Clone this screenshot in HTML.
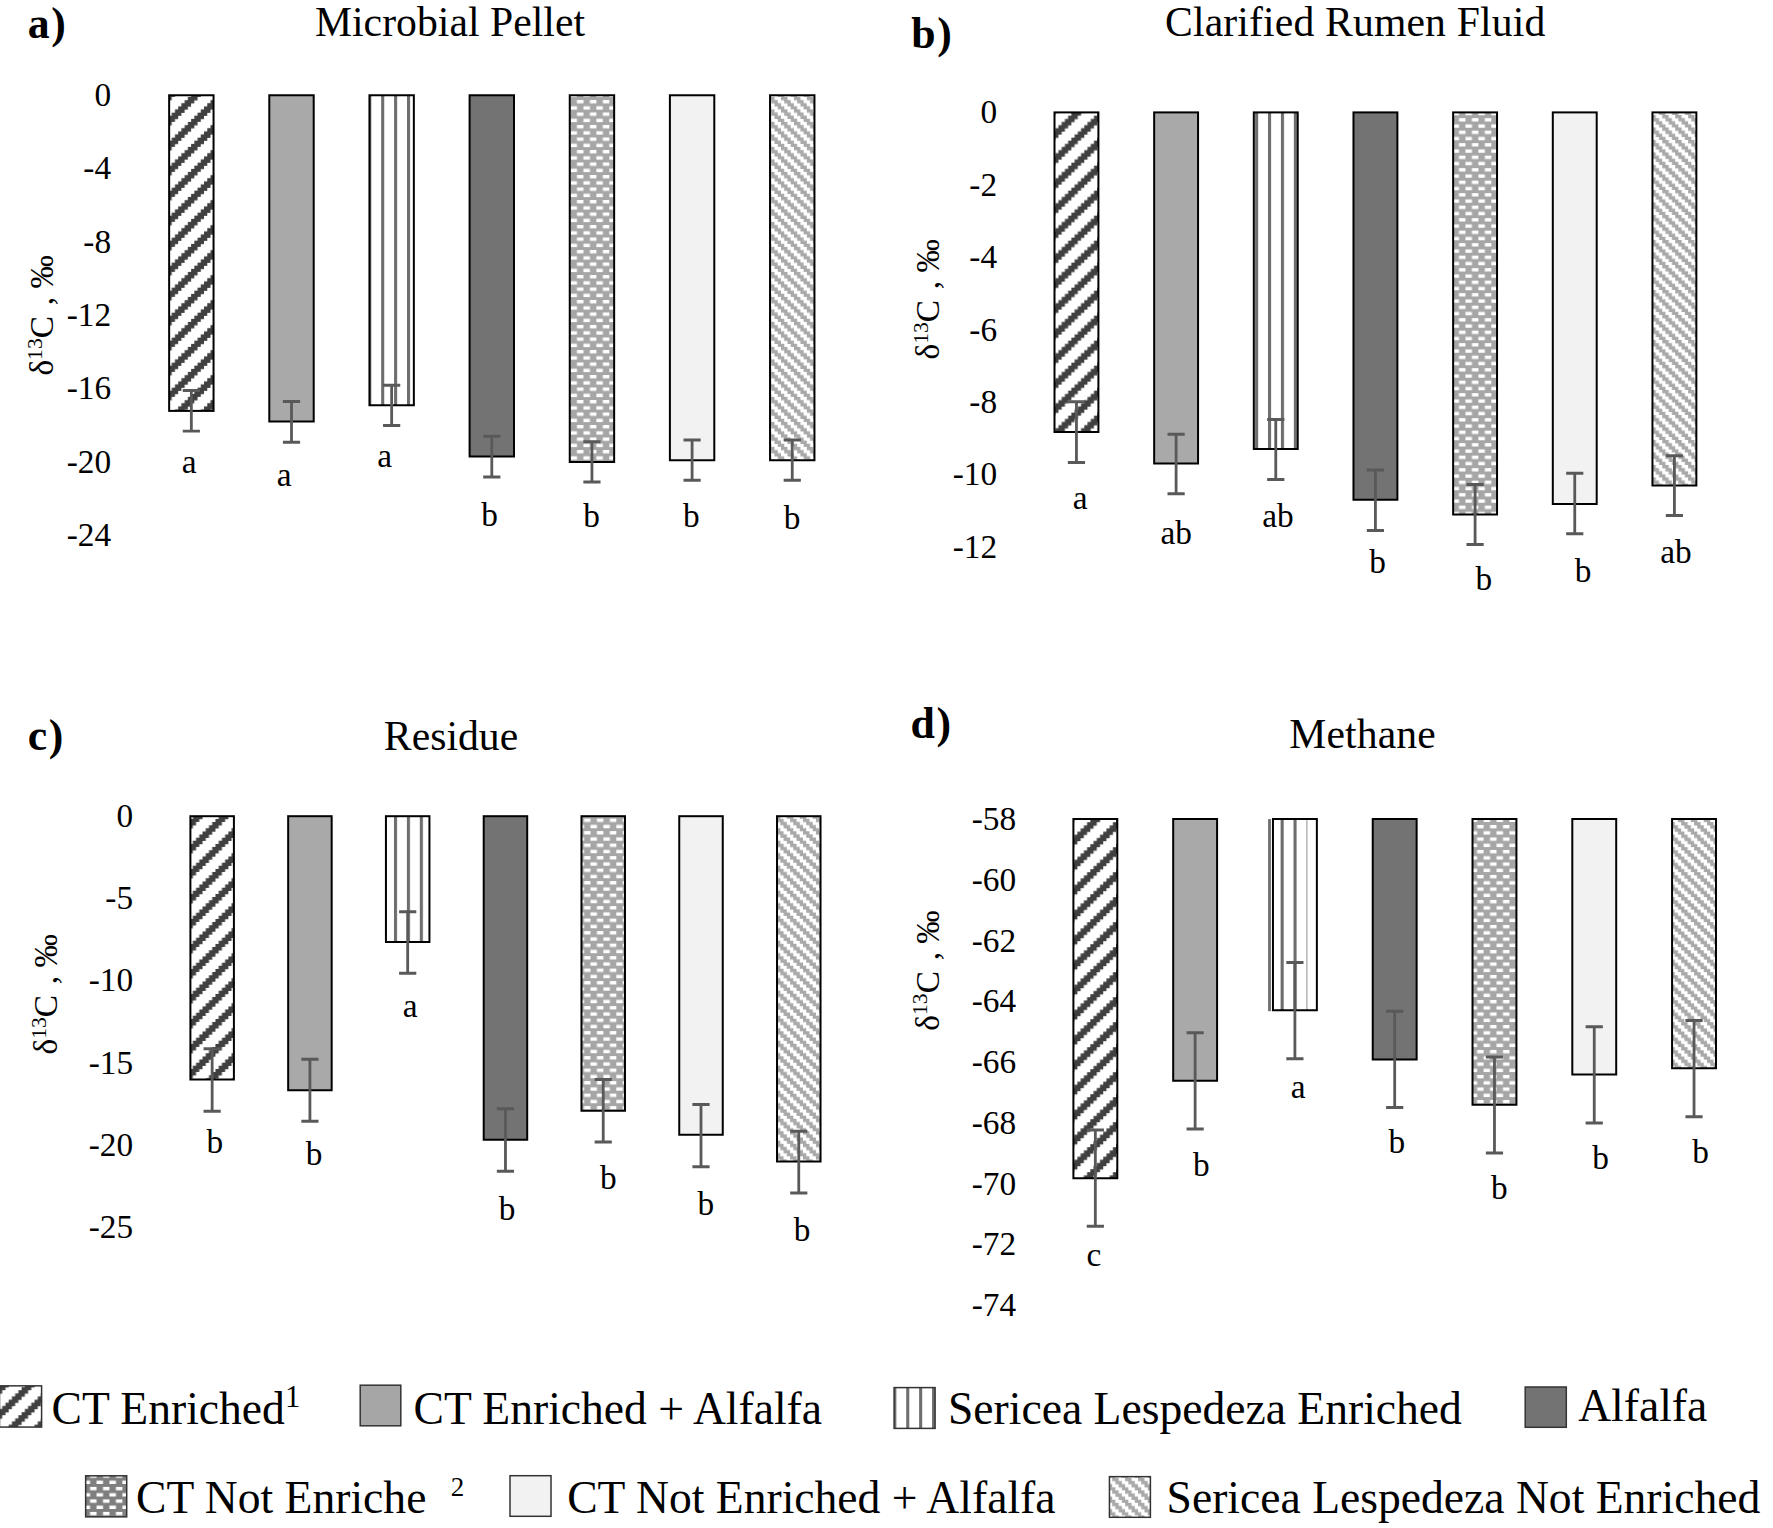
<!DOCTYPE html>
<html lang="en"><head><meta charset="utf-8"><title>Figure</title>
<style>html,body{margin:0;padding:0;background:#fff}body{width:1773px;height:1528px;overflow:hidden}svg{display:block}</style>
</head><body>
<svg width="1773" height="1528" viewBox="0 0 1773 1528" font-family='"Liberation Serif", serif' fill="#000">
<defs><pattern id="a0" patternUnits="userSpaceOnUse" x="23.16" y="21.88" width="25.840" height="25.000"><rect width="25.840" height="25.000" fill="#fff"/><path d="M9.69 0.000H19.38V3.375H9.69ZM6.46 3.125H16.15V6.500H6.46ZM3.23 6.250H12.92V9.625H3.23ZM0.00 9.375H9.69V12.750H0.00ZM0.00 12.500H6.46V15.875H0.00ZM22.61 12.500H25.84V15.875H22.61ZM0.00 15.625H3.23V19.000H0.00ZM19.38 15.625H25.84V19.000H19.38ZM16.15 18.750H25.84V22.125H16.15ZM12.92 21.875H22.61V25.250H12.92Z" fill="#404040"/></pattern>
<pattern id="a2" patternUnits="userSpaceOnUse" x="6.47" y="0" width="12.920" height="40"><rect width="12.920" height="40" fill="#fff"/><rect width="3.1" height="40" fill="#6e6e6e"/></pattern>
<pattern id="a4" patternUnits="userSpaceOnUse" x="2.06" y="0.00" width="12.920" height="12.500"><rect width="12.920" height="12.500" fill="#a6a6a6"/><path d="M6.46 0.000H12.92V3.375H6.46ZM0.00 6.250H6.46V9.625H0.00Z" fill="#fff"/></pattern>
<pattern id="a6" patternUnits="userSpaceOnUse" x="5.80" y="9.38" width="12.920" height="12.500"><rect width="12.920" height="12.500" fill="#fff"/><path d="M0.00 0.000H6.46V3.375H0.00ZM3.23 3.125H9.69V6.500H3.23ZM6.46 6.250H12.92V9.625H6.46ZM0.00 9.375H3.23V12.750H0.00ZM9.69 9.375H12.92V12.750H9.69Z" fill="#a9a9a9"/></pattern>
<pattern id="b0" patternUnits="userSpaceOnUse" x="24.86" y="15.66" width="25.840" height="25.000"><rect width="25.840" height="25.000" fill="#fff"/><path d="M9.69 0.000H19.38V3.375H9.69ZM6.46 3.125H16.15V6.500H6.46ZM3.23 6.250H12.92V9.625H3.23ZM0.00 9.375H9.69V12.750H0.00ZM0.00 12.500H6.46V15.875H0.00ZM22.61 12.500H25.84V15.875H22.61ZM0.00 15.625H3.23V19.000H0.00ZM19.38 15.625H25.84V19.000H19.38ZM16.15 18.750H25.84V22.125H16.15ZM12.92 21.875H22.61V25.250H12.92Z" fill="#404040"/></pattern>
<pattern id="b2" patternUnits="userSpaceOnUse" x="1.84" y="0" width="12.920" height="40"><rect width="12.920" height="40" fill="#fff"/><rect width="3.1" height="40" fill="#6e6e6e"/></pattern>
<pattern id="b4" patternUnits="userSpaceOnUse" x="5.50" y="5.64" width="12.920" height="12.500"><rect width="12.920" height="12.500" fill="#a6a6a6"/><path d="M6.46 0.000H12.92V3.375H6.46ZM0.00 6.250H6.46V9.625H0.00Z" fill="#fff"/></pattern>
<pattern id="b6" patternUnits="userSpaceOnUse" x="8.50" y="2.46" width="12.920" height="12.500"><rect width="12.920" height="12.500" fill="#fff"/><path d="M0.00 0.000H6.46V3.375H0.00ZM3.23 3.125H9.69V6.500H3.23ZM6.46 6.250H12.92V9.625H6.46ZM0.00 9.375H3.23V12.750H0.00ZM9.69 9.375H12.92V12.750H9.69Z" fill="#a9a9a9"/></pattern>
<pattern id="c0" patternUnits="userSpaceOnUse" x="21.65" y="21.96" width="25.840" height="25.000"><rect width="25.840" height="25.000" fill="#fff"/><path d="M9.69 0.000H19.38V3.375H9.69ZM6.46 3.125H16.15V6.500H6.46ZM3.23 6.250H12.92V9.625H3.23ZM0.00 9.375H9.69V12.750H0.00ZM0.00 12.500H6.46V15.875H0.00ZM22.61 12.500H25.84V15.875H22.61ZM0.00 15.625H3.23V19.000H0.00ZM19.38 15.625H25.84V19.000H19.38ZM16.15 18.750H25.84V22.125H16.15ZM12.92 21.875H22.61V25.250H12.92Z" fill="#404040"/></pattern>
<pattern id="c2" patternUnits="userSpaceOnUse" x="6.37" y="0" width="12.920" height="40"><rect width="12.920" height="40" fill="#fff"/><rect width="3.1" height="40" fill="#6e6e6e"/></pattern>
<pattern id="c4" patternUnits="userSpaceOnUse" x="9.08" y="6.10" width="12.920" height="12.500"><rect width="12.920" height="12.500" fill="#a6a6a6"/><path d="M6.46 0.000H12.92V3.375H6.46ZM0.00 6.250H6.46V9.625H0.00Z" fill="#fff"/></pattern>
<pattern id="c6" patternUnits="userSpaceOnUse" x="1.97" y="6.28" width="12.920" height="12.500"><rect width="12.920" height="12.500" fill="#fff"/><path d="M0.00 0.000H6.46V3.375H0.00ZM3.23 3.125H9.69V6.500H3.23ZM6.46 6.250H12.92V9.625H6.46ZM0.00 9.375H3.23V12.750H0.00ZM9.69 9.375H12.92V12.750H9.69Z" fill="#a9a9a9"/></pattern>
<pattern id="d0" patternUnits="userSpaceOnUse" x="17.96" y="22.20" width="25.840" height="25.000"><rect width="25.840" height="25.000" fill="#fff"/><path d="M9.69 0.000H19.38V3.375H9.69ZM6.46 3.125H16.15V6.500H6.46ZM3.23 6.250H12.92V9.625H3.23ZM0.00 9.375H9.69V12.750H0.00ZM0.00 12.500H6.46V15.875H0.00ZM22.61 12.500H25.84V15.875H22.61ZM0.00 15.625H3.23V19.000H0.00ZM19.38 15.625H25.84V19.000H19.38ZM16.15 18.750H25.84V22.125H16.15ZM12.92 21.875H22.61V25.250H12.92Z" fill="#404040"/></pattern>
<pattern id="d4" patternUnits="userSpaceOnUse" x="10.72" y="12.46" width="12.920" height="12.500"><rect width="12.920" height="12.500" fill="#a6a6a6"/><path d="M6.46 0.000H12.92V3.375H6.46ZM0.00 6.250H6.46V9.625H0.00Z" fill="#fff"/></pattern>
<pattern id="d6" patternUnits="userSpaceOnUse" x="1.60" y="9.63" width="12.920" height="12.500"><rect width="12.920" height="12.500" fill="#fff"/><path d="M0.00 0.000H6.46V3.375H0.00ZM3.23 3.125H9.69V6.500H3.23ZM6.46 6.250H12.92V9.625H6.46ZM0.00 9.375H3.23V12.750H0.00ZM9.69 9.375H12.92V12.750H9.69Z" fill="#a9a9a9"/></pattern>
<pattern id="L0" patternUnits="userSpaceOnUse" x="8.69" y="15.20" width="25.840" height="25.000"><rect width="25.840" height="25.000" fill="#fff"/><path d="M9.69 0.000H19.38V3.375H9.69ZM6.46 3.125H16.15V6.500H6.46ZM3.23 6.250H12.92V9.625H3.23ZM0.00 9.375H9.69V12.750H0.00ZM0.00 12.500H6.46V15.875H0.00ZM22.61 12.500H25.84V15.875H22.61ZM0.00 15.625H3.23V19.000H0.00ZM19.38 15.625H25.84V19.000H19.38ZM16.15 18.750H25.84V22.125H16.15ZM12.92 21.875H22.61V25.250H12.92Z" fill="#404040"/></pattern>
<pattern id="L2" patternUnits="userSpaceOnUse" x="1.80" y="0" width="12.920" height="40"><rect width="12.920" height="40" fill="#fff"/><rect width="3.1" height="40" fill="#6e6e6e"/></pattern>
<pattern id="L4" patternUnits="userSpaceOnUse" x="6.10" y="11.90" width="12.920" height="12.500"><rect width="12.920" height="12.500" fill="#7f7f7f"/><path d="M6.46 0.000H12.92V3.375H6.46ZM0.00 6.250H6.46V9.625H0.00Z" fill="#fff"/></pattern>
<pattern id="L6" patternUnits="userSpaceOnUse" x="1.08" y="2.85" width="12.920" height="12.500"><rect width="12.920" height="12.500" fill="#fff"/><path d="M0.00 0.000H6.46V3.375H0.00ZM3.23 3.125H9.69V6.500H3.23ZM6.46 6.250H12.92V9.625H6.46ZM0.00 9.375H3.23V12.750H0.00ZM9.69 9.375H12.92V12.750H9.69Z" fill="#a9a9a9"/></pattern></defs>
<g><rect x="169.15" y="95.26" width="44.40" height="315.64" fill="url(#a0)" stroke="#000" stroke-width="2"/>
<rect x="269.30" y="95.26" width="44.40" height="326.24" fill="#a9a9a9" stroke="#000" stroke-width="2"/>
<rect x="369.45" y="95.26" width="44.40" height="309.99" fill="url(#a2)" stroke="#000" stroke-width="2"/>
<rect x="469.60" y="95.26" width="44.40" height="361.24" fill="#737373" stroke="#000" stroke-width="2"/>
<rect x="569.75" y="95.26" width="44.40" height="366.74" fill="url(#a4)" stroke="#000" stroke-width="2"/>
<rect x="669.90" y="95.26" width="44.40" height="364.99" fill="#f2f2f2" stroke="#000" stroke-width="2"/>
<rect x="770.05" y="95.26" width="44.40" height="364.99" fill="url(#a6)" stroke="#000" stroke-width="2"/>
<path d="M191.35 390.50V431.10M182.75 390.50H199.95M182.75 431.10H199.95M291.50 401.50V442.25M282.90 401.50H300.10M282.90 442.25H300.10M391.65 385.25V425.50M383.05 385.25H400.25M383.05 425.50H400.25M491.80 436.25V477.00M483.20 436.25H500.40M483.20 477.00H500.40M591.95 441.75V482.00M583.35 441.75H600.55M583.35 482.00H600.55M692.10 440.00V480.25M683.50 440.00H700.70M683.50 480.25H700.70M792.25 440.00V480.25M783.65 440.00H800.85M783.65 480.25H800.85" stroke="#595959" stroke-width="2.8" fill="none"/>
<text x="181.80" y="473.20" font-size="33.33">a</text>
<text x="276.80" y="486.20" font-size="33.33">a</text>
<text x="377.30" y="466.95" font-size="33.33">a</text>
<text x="481.15" y="526.45" font-size="33.33">b</text>
<text x="583.15" y="527.45" font-size="33.33">b</text>
<text x="682.90" y="527.45" font-size="33.33">b</text>
<text x="783.65" y="528.70" font-size="33.33">b</text>
<text x="111.10" y="105.97" font-size="33.33" text-anchor="end">0</text>
<text x="111.10" y="179.35" font-size="33.33" text-anchor="end">-4</text>
<text x="111.10" y="252.73" font-size="33.33" text-anchor="end">-8</text>
<text x="111.10" y="326.11" font-size="33.33" text-anchor="end">-12</text>
<text x="111.10" y="399.49" font-size="33.33" text-anchor="end">-16</text>
<text x="111.10" y="472.87" font-size="33.33" text-anchor="end">-20</text>
<text x="111.10" y="546.25" font-size="33.33" text-anchor="end">-24</text>
<text x="450.00" y="35.75" font-size="41.67" text-anchor="middle" textLength="270.2" lengthAdjust="spacing">Microbial Pellet</text>
<text x="27.80" y="37.50" font-size="43.75" font-weight="bold" letter-spacing="1.6">a)</text>
<text transform="translate(52.90,375.60) rotate(-90)" font-size="33.33">δ<tspan font-size="21.66" dy="-11.2">13</tspan><tspan dy="11.2">C</tspan><tspan dx="2.4"> , ‰</tspan></text></g>
<g><rect x="1054.50" y="112.40" width="43.90" height="319.60" fill="url(#b0)" stroke="#000" stroke-width="2"/>
<rect x="1154.16" y="112.40" width="43.90" height="351.10" fill="#a9a9a9" stroke="#000" stroke-width="2"/>
<rect x="1253.82" y="112.40" width="43.90" height="336.60" fill="url(#b2)" stroke="#000" stroke-width="2"/>
<rect x="1353.48" y="112.40" width="43.90" height="387.35" fill="#737373" stroke="#000" stroke-width="2"/>
<rect x="1453.14" y="112.40" width="43.90" height="402.10" fill="url(#b4)" stroke="#000" stroke-width="2"/>
<rect x="1552.80" y="112.40" width="43.90" height="391.60" fill="#f2f2f2" stroke="#000" stroke-width="2"/>
<rect x="1652.46" y="112.40" width="43.90" height="373.10" fill="url(#b6)" stroke="#000" stroke-width="2"/>
<path d="M1076.45 401.75V462.50M1067.85 401.75H1085.05M1067.85 462.50H1085.05M1176.11 434.25V493.75M1167.51 434.25H1184.71M1167.51 493.75H1184.71M1275.77 419.50V479.50M1267.17 419.50H1284.37M1267.17 479.50H1284.37M1375.43 470.00V530.50M1366.83 470.00H1384.03M1366.83 530.50H1384.03M1475.09 484.50V544.50M1466.49 484.50H1483.69M1466.49 544.50H1483.69M1574.75 473.25V533.75M1566.15 473.25H1583.35M1566.15 533.75H1583.35M1674.41 455.75V515.50M1665.81 455.75H1683.01M1665.81 515.50H1683.01" stroke="#595959" stroke-width="2.8" fill="none"/>
<text x="1072.80" y="509.45" font-size="33.33">a</text>
<text x="1160.55" y="544.45" font-size="33.33">ab</text>
<text x="1262.30" y="526.95" font-size="33.33">ab</text>
<text x="1369.15" y="573.20" font-size="33.33">b</text>
<text x="1475.40" y="590.20" font-size="33.33">b</text>
<text x="1574.65" y="581.95" font-size="33.33">b</text>
<text x="1660.30" y="563.20" font-size="33.33">ab</text>
<text x="997.10" y="123.47" font-size="33.33" text-anchor="end">0</text>
<text x="997.10" y="195.82" font-size="33.33" text-anchor="end">-2</text>
<text x="997.10" y="268.17" font-size="33.33" text-anchor="end">-4</text>
<text x="997.10" y="340.52" font-size="33.33" text-anchor="end">-6</text>
<text x="997.10" y="412.87" font-size="33.33" text-anchor="end">-8</text>
<text x="997.10" y="485.22" font-size="33.33" text-anchor="end">-10</text>
<text x="997.10" y="557.57" font-size="33.33" text-anchor="end">-12</text>
<text x="1355.10" y="35.75" font-size="41.67" text-anchor="middle" textLength="380.3" lengthAdjust="spacing">Clarified Rumen Fluid</text>
<text x="911.30" y="47.50" font-size="43.75" font-weight="bold" letter-spacing="1.6">b)</text>
<text transform="translate(939.00,359.50) rotate(-90)" font-size="33.33">δ<tspan font-size="21.66" dy="-11.2">13</tspan><tspan dy="11.2">C</tspan><tspan dx="2.4"> , ‰</tspan></text></g>
<g><rect x="190.40" y="816.20" width="43.50" height="263.30" fill="url(#c0)" stroke="#000" stroke-width="2"/>
<rect x="288.17" y="816.20" width="43.50" height="274.05" fill="#a9a9a9" stroke="#000" stroke-width="2"/>
<rect x="385.94" y="816.20" width="43.50" height="125.80" fill="url(#c2)" stroke="#000" stroke-width="2"/>
<rect x="483.71" y="816.20" width="43.50" height="323.55" fill="#737373" stroke="#000" stroke-width="2"/>
<rect x="581.48" y="816.20" width="43.50" height="294.55" fill="url(#c4)" stroke="#000" stroke-width="2"/>
<rect x="679.25" y="816.20" width="43.50" height="318.55" fill="#f2f2f2" stroke="#000" stroke-width="2"/>
<rect x="777.02" y="816.20" width="43.50" height="345.30" fill="url(#c6)" stroke="#000" stroke-width="2"/>
<path d="M212.15 1048.75V1111.25M203.55 1048.75H220.75M203.55 1111.25H220.75M309.92 1059.25V1121.25M301.32 1059.25H318.52M301.32 1121.25H318.52M407.69 911.75V973.25M399.09 911.75H416.29M399.09 973.25H416.29M505.46 1108.75V1171.25M496.86 1108.75H514.06M496.86 1171.25H514.06M603.23 1079.50V1142.00M594.63 1079.50H611.83M594.63 1142.00H611.83M701.00 1104.50V1166.75M692.40 1104.50H709.60M692.40 1166.75H709.60M798.77 1131.25V1193.00M790.17 1131.25H807.37M790.17 1193.00H807.37" stroke="#595959" stroke-width="2.8" fill="none"/>
<text x="206.40" y="1152.75" font-size="33.33">b</text>
<text x="305.65" y="1165.25" font-size="33.33">b</text>
<text x="402.80" y="1016.50" font-size="33.33">a</text>
<text x="498.65" y="1220.25" font-size="33.33">b</text>
<text x="599.90" y="1189.00" font-size="33.33">b</text>
<text x="697.40" y="1214.50" font-size="33.33">b</text>
<text x="793.65" y="1240.75" font-size="33.33">b</text>
<text x="133.10" y="827.07" font-size="33.33" text-anchor="end">0</text>
<text x="133.10" y="909.27" font-size="33.33" text-anchor="end">-5</text>
<text x="133.10" y="991.47" font-size="33.33" text-anchor="end">-10</text>
<text x="133.10" y="1073.67" font-size="33.33" text-anchor="end">-15</text>
<text x="133.10" y="1155.87" font-size="33.33" text-anchor="end">-20</text>
<text x="133.10" y="1238.07" font-size="33.33" text-anchor="end">-25</text>
<text x="451.00" y="750.00" font-size="41.67" text-anchor="middle" textLength="134.3" lengthAdjust="spacing">Residue</text>
<text x="27.80" y="749.50" font-size="43.75" font-weight="bold" letter-spacing="1.6">c)</text>
<text transform="translate(57.25,1054.50) rotate(-90)" font-size="33.33">δ<tspan font-size="21.66" dy="-11.2">13</tspan><tspan dy="11.2">C</tspan><tspan dx="2.4"> , ‰</tspan></text></g>
<g><rect x="1073.40" y="819.00" width="43.90" height="359.25" fill="url(#d0)" stroke="#000" stroke-width="2"/>
<rect x="1173.18" y="819.00" width="43.90" height="261.75" fill="#a9a9a9" stroke="#000" stroke-width="2"/>
<rect x="1272.96" y="819.00" width="43.90" height="191.25" fill="#fff"/>
<rect x="1280.60" y="819.00" width="3.1" height="191.25" fill="#6e6e6e"/>
<rect x="1293.50" y="819.00" width="3.1" height="191.25" fill="#6e6e6e"/>
<rect x="1306.10" y="819.00" width="1.5" height="191.25" fill="#b4b4b4"/>
<rect x="1272.96" y="819.00" width="43.90" height="191.25" fill="none" stroke="#000" stroke-width="2"/>
<rect x="1372.74" y="819.00" width="43.90" height="240.50" fill="#737373" stroke="#000" stroke-width="2"/>
<rect x="1472.52" y="819.00" width="43.90" height="285.75" fill="url(#d4)" stroke="#000" stroke-width="2"/>
<rect x="1572.30" y="819.00" width="43.90" height="255.50" fill="#f2f2f2" stroke="#000" stroke-width="2"/>
<rect x="1672.08" y="819.00" width="43.90" height="249.25" fill="url(#d6)" stroke="#000" stroke-width="2"/>
<path d="M1269.5 819.1V1011.2" stroke="#6e6e6e" stroke-width="2.8"/>
<path d="M1095.35 1130.00V1226.25M1086.75 1130.00H1103.95M1086.75 1226.25H1103.95M1195.13 1032.75V1129.00M1186.53 1032.75H1203.73M1186.53 1129.00H1203.73M1294.91 962.50V1058.75M1286.31 962.50H1303.51M1286.31 1058.75H1303.51M1394.69 1011.25V1107.50M1386.09 1011.25H1403.29M1386.09 1107.50H1403.29M1494.47 1057.00V1153.00M1485.87 1057.00H1503.07M1485.87 1153.00H1503.07M1594.25 1026.75V1123.00M1585.65 1026.75H1602.85M1585.65 1123.00H1602.85M1694.03 1020.50V1116.75M1685.43 1020.50H1702.63M1685.43 1116.75H1702.63" stroke="#595959" stroke-width="2.8" fill="none"/>
<text x="1086.45" y="1265.80" font-size="33.33">c</text>
<text x="1192.90" y="1176.00" font-size="33.33">b</text>
<text x="1290.80" y="1097.75" font-size="33.33">a</text>
<text x="1388.40" y="1153.20" font-size="33.33">b</text>
<text x="1490.90" y="1198.60" font-size="33.33">b</text>
<text x="1592.15" y="1169.45" font-size="33.33">b</text>
<text x="1692.15" y="1162.70" font-size="33.33">b</text>
<text x="1016.10" y="830.02" font-size="33.33" text-anchor="end">-58</text>
<text x="1016.10" y="890.77" font-size="33.33" text-anchor="end">-60</text>
<text x="1016.10" y="951.52" font-size="33.33" text-anchor="end">-62</text>
<text x="1016.10" y="1012.27" font-size="33.33" text-anchor="end">-64</text>
<text x="1016.10" y="1073.02" font-size="33.33" text-anchor="end">-66</text>
<text x="1016.10" y="1133.77" font-size="33.33" text-anchor="end">-68</text>
<text x="1016.10" y="1194.52" font-size="33.33" text-anchor="end">-70</text>
<text x="1016.10" y="1255.27" font-size="33.33" text-anchor="end">-72</text>
<text x="1016.10" y="1316.02" font-size="33.33" text-anchor="end">-74</text>
<text x="1362.50" y="748.00" font-size="41.67" text-anchor="middle" textLength="146.6" lengthAdjust="spacing">Methane</text>
<text x="910.55" y="738.00" font-size="43.75" font-weight="bold" letter-spacing="1.6">d)</text>
<text transform="translate(938.50,1030.70) rotate(-90)" font-size="33.33">δ<tspan font-size="21.66" dy="-11.2">13</tspan><tspan dy="11.2">C</tspan><tspan dx="2.4"> , ‰</tspan></text></g>
<g><rect x="-0.50" y="1385.85" width="42.10" height="41.21" fill="url(#L0)" stroke="#333" stroke-width="1.5"/>
<text x="51.50" y="1423.75" font-size="45.6">CT Enriched<tspan font-size="30.5" dy="-16.7">1</tspan></text>
<rect x="360.20" y="1385.20" width="40.60" height="40.60" fill="#a6a6a6" stroke="#333" stroke-width="1.5"/>
<text x="413.50" y="1423.75" font-size="45.6">CT Enriched + Alfalfa</text>
<rect x="894.10" y="1387.60" width="41.00" height="40.80" fill="url(#L2)" stroke="#333" stroke-width="1.5"/>
<text x="948.00" y="1424.25" font-size="45.6">Sericea Lespedeza Enriched</text>
<rect x="1525.20" y="1387.00" width="41.10" height="40.30" fill="#737373" stroke="#333" stroke-width="1.5"/>
<text x="1578.20" y="1421.25" font-size="45.6">Alfalfa</text>
<rect x="85.66" y="1475.80" width="41.04" height="41.05" fill="url(#L4)" stroke="#333" stroke-width="1.5"/>
<text x="136.00" y="1512.50" font-size="45.6">CT Not Enriche</text>
<text x="450.80" y="1495.75" font-size="27">2</text>
<rect x="510.00" y="1475.70" width="41.00" height="40.60" fill="#f2f2f2" stroke="#333" stroke-width="1.5"/>
<text x="567.20" y="1512.50" font-size="45.6">CT Not Enriched + Alfalfa</text>
<rect x="1109.44" y="1476.66" width="40.96" height="40.64" fill="url(#L6)" stroke="#333" stroke-width="1.5"/>
<text x="1166.60" y="1512.50" font-size="45.6">Sericea Lespedeza Not Enriched</text></g>
</svg>
</body></html>
